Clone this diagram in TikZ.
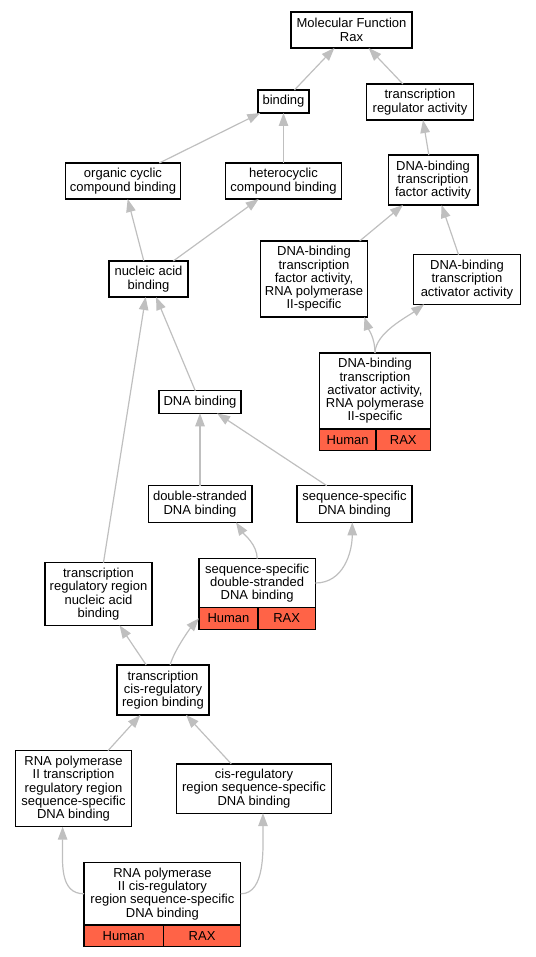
\documentclass[tikz,border=0pt]{standalone}
\usepackage{fontspec}
\setmainfont{Liberation Sans}
\usetikzlibrary{arrows.meta}
\definecolor{tomato}{RGB}{255,99,71}

\begin{document}
\begin{tikzpicture}[x=1pt, y=-1pt,
  >={Triangle[length=13pt,width=9.5pt]},
  every node/.style={font=\fontsize{13}{13.3}\selectfont},
  T/.style={rectangle, draw, line width=1.3, align=center,
    inner sep=0pt, outer sep=0pt, fill=white},
  C/.style={T, fill=tomato},
  E/.style={->, black!25, line width=1.2}]
  %
  \useasboundingbox (0,0) rectangle (535,957);

  % terms, top to bottom
  \node[T, minimum width=121,   minimum height=36]   (MF)  at (351.5, 30)   {Molecular Function\\Rax};
  \node[T, minimum width=51,    minimum height=23]   (B)   at (283.5, 101.5) {binding};
  \node[T, minimum width=107,   minimum height=36]   (TRA) at (420, 102)    {transcription\\regulator activity};
  \node[T, minimum width=115.5, minimum height=36]   (OCC) at (123, 181)    {organic cyclic\\compound binding};
  \node[T, minimum width=115.7, minimum height=36]   (HCC) at (283.5, 181)  {heterocyclic\\compound binding};
  \node[T, minimum width=89.7,  minimum height=50]   (TFA) at (433, 180)    {DNA-binding\\transcription\\factor activity};
  \node[T, minimum width=79,    minimum height=36]   (NAB) at (148.5, 279)  {nucleic acid\\binding};
  \node[T, minimum width=107.4, minimum height=76]   (TFP) at (314, 279)    {DNA-binding\\transcription\\factor activity,\\RNA polymerase\\II-specific};
  \node[T, minimum width=107.5, minimum height=49.5] (TAA) at (467, 279.5)  {DNA-binding\\transcription\\activator activity};
  \node[T, minimum width=111.3, minimum height=76]   (TAP) at (375, 391)    {DNA-binding\\transcription\\activator activity,\\RNA polymerase\\II-specific};
  \node[C, minimum width=56.5, minimum height=21.7, anchor=north west] (TAPh) at (TAP.south west) {Human};
  \node[C, minimum width=54.8, minimum height=21.7, anchor=north east] (TAPr) at (TAP.south east) {RAX};
  \node[T, minimum width=82,    minimum height=22.6] (DB)  at (200, 402)    {DNA binding};
  \node[T, minimum width=103.7, minimum height=36.7] (DSB) at (200, 504)    {double-stranded\\DNA binding};
  \node[T, minimum width=115,   minimum height=36.7] (SSB) at (354.5, 504)  {sequence-specific\\DNA binding};
  \node[T, minimum width=107,   minimum height=62.6] (TRB) at (98.5, 594)   {transcription\\regulatory region\\nucleic acid\\binding};
  \node[T, minimum width=116.4, minimum height=48.6] (SSD) at (257.2, 583)  {sequence-specific\\double-stranded\\DNA binding};
  \node[C, minimum width=59,   minimum height=22, anchor=north west] (SSDh) at (SSD.south west) {Human};
  \node[C, minimum width=57.4, minimum height=22, anchor=north east] (SSDr) at (SSD.south east) {RAX};
  \node[T, minimum width=92,    minimum height=50]   (TCR) at (163, 690)    {transcription\\cis-regulatory\\region binding};
  \node[T, minimum width=115.4, minimum height=76]   (PTR) at (73.5, 788.7) {RNA polymerase\\II transcription\\regulatory region\\sequence-specific\\DNA binding};
  \node[T, minimum width=155.5, minimum height=49.3] (CRS) at (254, 788.5)  {cis-regulatory\\region sequence-specific\\DNA binding};
  \node[T, minimum width=156.8, minimum height=62.3] (PCR) at (162.4, 893.8) {RNA polymerase\\II cis-regulatory\\region sequence-specific\\DNA binding};
  \node[C, minimum width=79.4, minimum height=21.7, anchor=north west] (PCRh) at (PCR.south west) {Human};
  \node[C, minimum width=77.4, minimum height=21.7, anchor=north east] (PCRr) at (PCR.south east) {RAX};

  % is_a links
  \draw[E] (B) -- (MF);
  \draw[E] (TRA) -- (MF);
  \draw[E] (OCC) -- (B);
  \draw[E] (HCC) -- (B);
  \draw[E] (TFA) -- (TRA);
  \draw[E] (NAB) -- (OCC);
  \draw[E] (NAB) -- (HCC);
  \draw[E] (TFP) -- (TFA);
  \draw[E] (TAA) -- (TFA);
  \draw[E] (TAP.north) .. controls +(0,-15) and +(4,12) .. (TFP.-37);
  \draw[E] (TAP.north) .. controls +(0,-20) and +(-16,12) .. (TAA.210);
  \draw[E] (DB) -- (NAB);
  \draw[E] (TRB) -- (NAB);
  \draw[E] (DSB) -- (DB);
  \draw[E] (SSB) -- (DB);
  \draw[E] (SSD.north) .. controls +(0,-14) and +(8,12) .. (DSB.-27);
  \draw[E] (SSD.east) .. controls +(28,0) and +(0,30) .. (SSB.-97);
  \draw[E] (TCR) -- (TRB);
  \draw[E] (TCR.74) .. controls +(4,-15) and +(-8,9) .. (SSDh.west);
  \draw[E] (PTR) -- (TCR);
  \draw[E] (CRS) -- (TCR);
  \draw[E] (PCR.west) .. controls +(-25,0) and +(0,35) .. (PTR.-106);
  \draw[E] (PCR.east) .. controls +(25,0) and +(0,35) .. (CRS.-70);

\end{tikzpicture}
\end{document}
